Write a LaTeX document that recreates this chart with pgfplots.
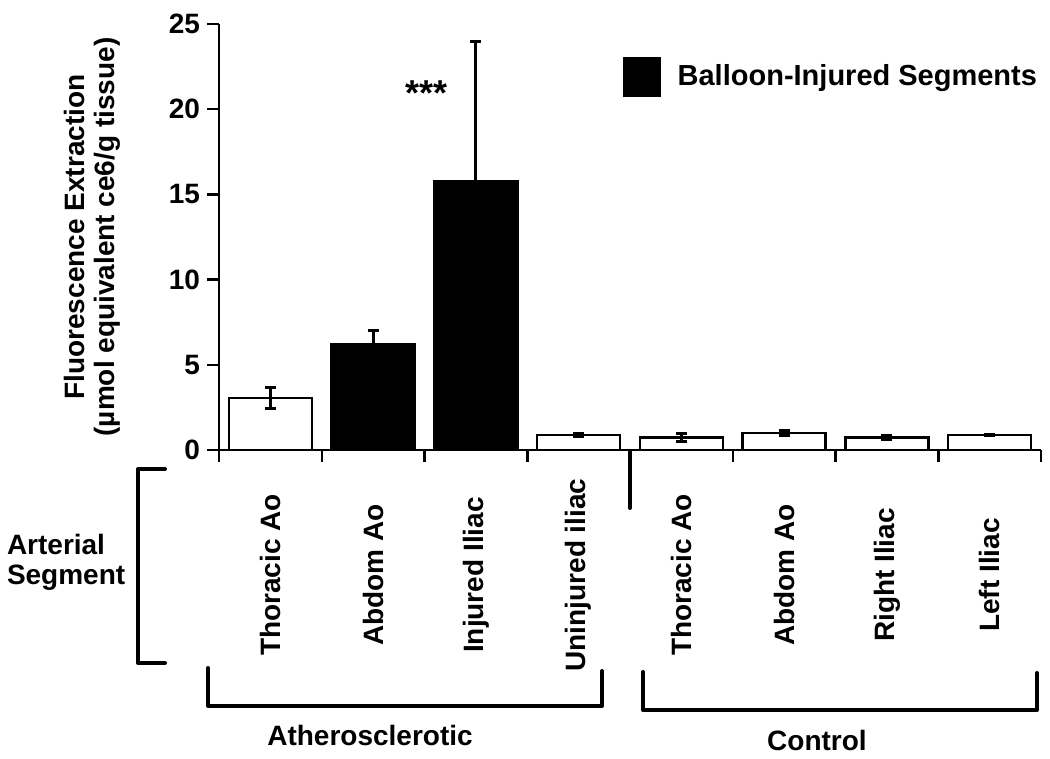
\documentclass[border=0pt]{standalone}
\usepackage{fontspec}
\setmainfont{Liberation Sans}
\usepackage{pgfplots}
\pgfplotsset{compat=1.18}

\newcommand{\lab}{\bfseries\fontsize{14}{15}\selectfont}

\begin{document}
\begin{tikzpicture}
\path[use as bounding box] (0,0) rectangle (525pt,379.5pt);
\begin{axis}[
  at={(109.5pt,154.5pt)}, anchor=south west,
  scale only axis, width=411pt, height=213pt,
  xmin=-0.5, xmax=7.5, ymin=0, ymax=25,
  axis x line*=bottom, axis y line*=left,
  axis line style={line width=1.25pt},
  xtick={-0.5,0.5,...,7.5}, xticklabels={},
  ytick={0,5,...,25},
  tick align=outside, major tick length=6pt,
  tick style={line width=1.25pt, black},
  yticklabel style={font=\lab},
  /pgf/number format/assume math mode=true,
  ylabel={Fluorescence Extraction\\(µmol equivalent ce6/g tissue)},
  every axis y label/.style={at={(axis description cs:-0.1545,0.5)}, rotate=90,
    anchor=center, font=\lab, align=center},
  ybar, bar width=41.5pt,
  clip=false,
  legend style={at={(0.4915,0.8756)}, anchor=west, draw=none, fill=none,
    inner sep=0pt, font=\bfseries\fontsize{14.5}{15}\selectfont, legend cell align=left},
]
% white bars
\addplot[draw=black, fill=white, line width=1.25pt, bar shift=0pt, forget plot,
  error bars/.cd, y dir=both, y explicit, error mark=-,
  error bar style={line width=1.5pt, black},
  error mark options={rotate=90, mark size=2.75pt, line width=1.5pt, black}]
  table[x=x, y=y, y error=e] {
x y e
0 3.05 0.63
3 0.88 0.08
4 0.74 0.22
5 1.00 0.12
6 0.74 0.10
7 0.88 0.05
};
% balloon-injured (black) bars
\addplot[draw=black, fill=black, line width=1.25pt, bar shift=0pt,
  legend image code/.code={\fill[black] (0pt,-9.25pt) rectangle (17.5pt,9.25pt);
    \path[draw=none, fill=none] (0pt,0pt) -- (24.5pt,0pt);},
  error bars/.cd, y dir=plus, y explicit, error mark=-,
  error bar style={line width=1.5pt, black},
  error mark options={rotate=90, mark size=2.75pt, line width=1.5pt, black}]
  table[x=x, y=y, y error=e] {
x y e
1 6.22 0.82
2 15.8 8.2
};
\addlegendentry{Balloon-Injured Segments}

\node[anchor=north, inner sep=0pt, font=\bfseries\fontsize{18}{18}\selectfont] at (axis cs:1.52,21.7) {***};

\path (axis cs:0,0) ++(0pt,-62.5pt) node[rotate=90, font=\lab] {Thoracic Ao};
\path (axis cs:1,0) ++(0pt,-62.5pt) node[rotate=90, font=\lab] {Abdom Ao};
\path (axis cs:2,0) ++(0pt,-62.5pt) node[rotate=90, font=\lab] {Injured Iliac};
\path (axis cs:3,0) ++(0pt,-62.5pt) node[rotate=90, font=\lab] {Uninjured iliac};
\path (axis cs:4,0) ++(0pt,-62.5pt) node[rotate=90, font=\lab] {Thoracic Ao};
\path (axis cs:5,0) ++(0pt,-62.5pt) node[rotate=90, font=\lab] {Abdom Ao};
\path (axis cs:6,0) ++(0pt,-62.5pt) node[rotate=90, font=\lab] {Right Iliac};
\path (axis cs:7,0) ++(0pt,-62.5pt) node[rotate=90, font=\lab] {Left Iliac};
\end{axis}

% group brackets, drawn in pixel units of the reference
\begin{scope}[x=0.5pt, y=-0.5pt, shift={(0pt,379.5pt)}, line width=2pt, line cap=round, line join=round]
  \draw (630,452) -- (630,508);
  \draw (165,469) -- (138,469) -- (138,663) -- (165,663);
  \node[anchor=west, align=left, font=\lab, inner sep=0pt] at (5,562) {Arterial\\Segment};
  \draw (208,668) -- (208,706) -- (602,706) -- (602,671);
  \node[font=\lab] at (370,735) {Atherosclerotic};
  \draw (643,672) -- (643,710) -- (1037,710) -- (1037,673);
  \node[font=\lab] at (817,740) {Control};
\end{scope}
\end{tikzpicture}
\end{document}
